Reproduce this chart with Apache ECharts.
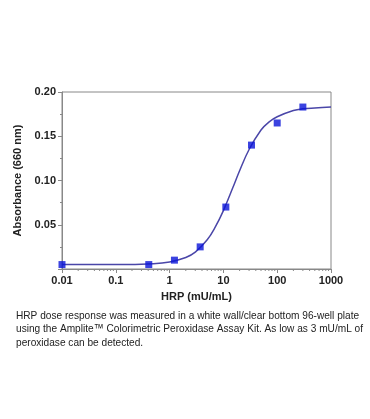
<!DOCTYPE html>
<html><head><meta charset="utf-8">
<script src="https://cdn.jsdelivr.net/npm/echarts@6/dist/echarts.min.js"></script>
<style>html,body{margin:0;padding:0;background:#fff}#c{width:370px;height:419px}</style>
</head><body><div id="c"></div>
<script>
// Measured points
const concentrations = [0.01, 0.41, 1.23, 3.7, 11.1, 33.3, 100, 300];
const absorbance = [0.005, 0.005, 0.010, 0.025, 0.070, 0.140, 0.165, 0.183];
// Fitted curve
const curveX = [0.01, 0.1, 0.5, 1, 2, 3, 5, 7, 10, 15, 20, 30, 50, 70, 100, 200, 300, 500, 1000];
const curveY = [0.005, 0.005, 0.006, 0.008, 0.013, 0.019, 0.033, 0.047, 0.066, 0.092, 0.111, 0.135, 0.157, 0.166, 0.172, 0.179, 0.181, 0.182, 0.183];
const yTicks = [0.05, 0.10, 0.15, 0.20];
const xTickLabels = ['0.01', '0.1', '1', '10', '100', '1000'];
const minorX = [];
[0.01, 0.1, 1, 10, 100].forEach(d => { for (let m = 2; m <= 9; m++) minorX.push(+(d * m).toPrecision(3)); });
const caption = 'HRP dose response was measured in a white wall/clear bottom 96-well plate\nusing the Amplite\u2122 Colorimetric Peroxidase Assay Kit. As low as 3 mU/mL of\nperoxidase can be detected.';

const chart = echarts.init(document.getElementById('c'));
const axisCol = '#888';
chart.setOption({
  animation: false,
  grid: { left: 62, right: 39, top: 92, bottom: 150, show: true, borderColor: axisCol, borderWidth: 1 },
  xAxis: {
    type: 'log', logBase: 10, min: 0.01, max: 1000,
    name: 'HRP (mU/mL)', nameLocation: 'middle', nameGap: 22,
    nameTextStyle: { fontFamily: 'Liberation Sans', fontWeight: 'bold', fontSize: 11, color: '#222' },
    axisLine: { lineStyle: { color: axisCol } },
    axisTick: { inside: false, length: 4, lineStyle: { color: axisCol } },
    splitLine: { show: false },
    axisLabel: { fontFamily: 'Liberation Sans', fontWeight: 'bold', fontSize: 11, color: '#222', margin: 6,
      formatter: v => { const s = xTickLabels.find(t => Math.abs(Math.log10(+t) - Math.log10(v)) < 1e-6); return s || ''; } }
  },
  yAxis: {
    type: 'value', min: 0, max: 0.2, interval: 0.05,
    name: 'Absorbance (660 nm)', nameLocation: 'middle', nameGap: 36, nameRotate: 90,
    nameTextStyle: { fontFamily: 'Liberation Sans', fontWeight: 'bold', fontSize: 11, color: '#222' },
    axisLine: { show: true, lineStyle: { color: axisCol } },
    axisTick: { show: true, length: 4, lineStyle: { color: axisCol } },
    minorTick: { show: true, splitNumber: 2, length: 2, lineStyle: { color: axisCol } },
    splitLine: { show: false },
    axisLabel: { fontFamily: 'Liberation Sans', fontWeight: 'bold', fontSize: 11, color: '#222', margin: 6,
      formatter: v => { const t = yTicks.find(k => Math.abs(k - v) < 1e-9); return t ? t.toFixed(2) : ''; } }
  },
  series: [
    {
      type: 'custom', silent: true, z: 1,
      data: minorX.map(v => [v]),
      renderItem: (params, api) => {
        const p = api.coord([api.value(0), 0]);
        return { type: 'line', shape: { x1: p[0], y1: p[1], x2: p[0], y2: p[1] + 2 }, style: { stroke: axisCol, lineWidth: 1 } };
      }
    },
    {
      type: 'line', smooth: 0.4, showSymbol: false, z: 2,
      data: curveX.map((x, i) => [x, curveY[i]]),
      lineStyle: { color: '#4a46a8', width: 1.5 }
    },
    {
      type: 'scatter', symbol: 'rect', symbolSize: 7, z: 3,
      data: concentrations.map((x, i) => [x, absorbance[i]]),
      itemStyle: { color: '#0a14d8' }
    }
  ],
  graphic: [{
    type: 'text', x: 16, y: 309, scaleX: 0.88, scaleY: 1,
    style: { text: caption, fontFamily: 'Liberation Sans', fontSize: 11.5, lineHeight: 13.5, fill: '#222' }
  }]
});
</script></body></html>
